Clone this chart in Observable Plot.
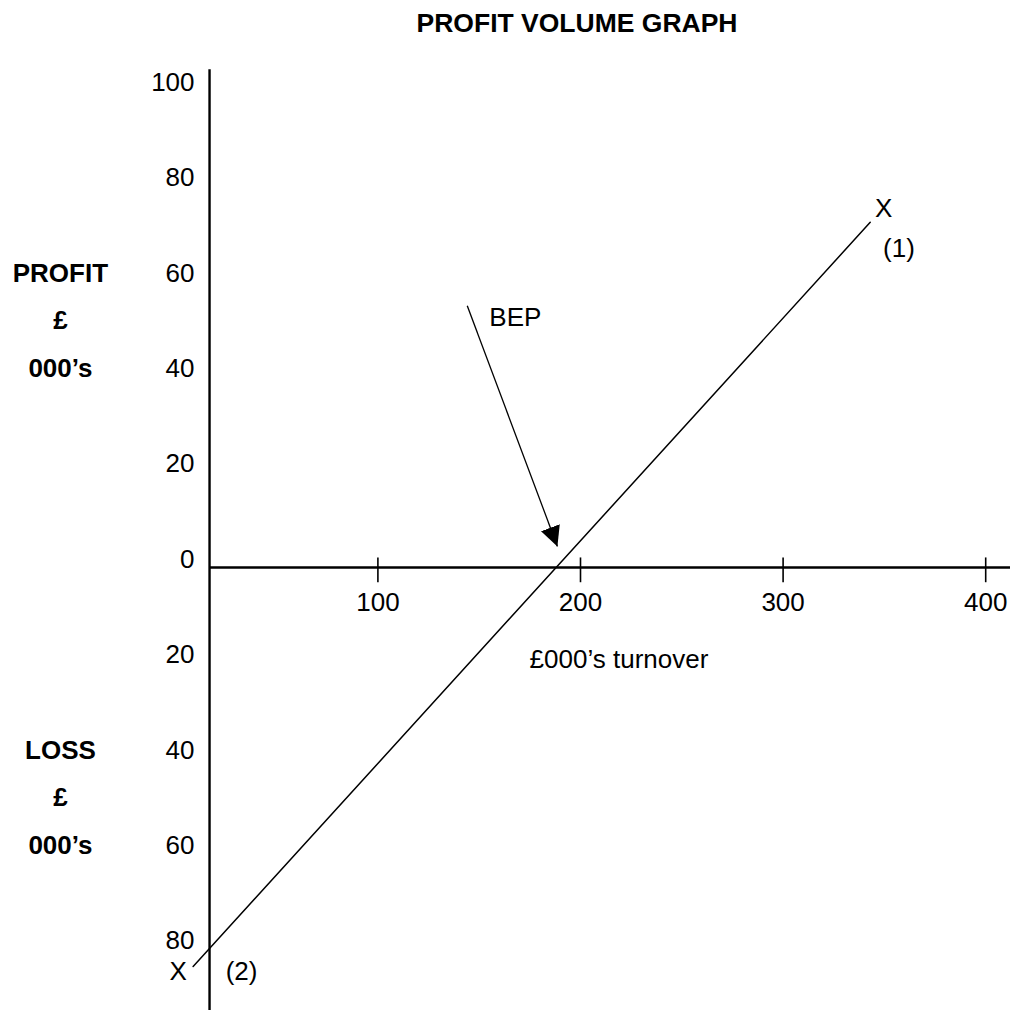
<!DOCTYPE html>
<html><head><meta charset="utf-8">
<script src="https://cdn.jsdelivr.net/npm/d3@7"></script>
<script src="https://cdn.jsdelivr.net/npm/@observablehq/plot@0.6"></script>
<style>
body{margin:0;background:#fff;font-family:"Liberation Sans",Arial,Helvetica,sans-serif;}
#title{height:46px;line-height:46px;font-size:26.5px;font-weight:bold;text-align:center;padding-left:144px;width:866px;color:#000;}
#chart svg{display:block;}
</style></head><body>
<div id="title">PROFIT VOLUME GRAPH</div>
<div id="chart"></div>
<script>
// ---- data ----
const turnoverTicks = [100, 200, 300, 400];
const profitTicks = [100, 80, 60, 40, 20, 0, -20, -40, -60, -80];
const yAxisAt = 16.9;              // turnover where the vertical axis is drawn
const yAxisExtent = [-93, 104.4];  // profit range covered by the vertical axis
const xAxisExtent = [16.9, 412.5]; // turnover range covered by the horizontal axis
const tickExtent = [-3.2, 2.0];    // profit range of the turnover ticks
const pvLine = [
  {turnover: 8.8, profit: -83.7},
  {turnover: 343, profit: 72.4}
];
const bepArrow = [{x1: 144.1, y1: 54.9, x2: 188.6, y2: 4.4}];
const bepLabel = [{text: "BEP", turnover: 155, profit: 52.3}];
const annotations = [
  {text: "X", turnover: 349.6, profit: 75.3},
  {text: "(1)", turnover: 357.2, profit: 66.9},
  {text: "X", turnover: 1.4, profit: -84.7},
  {text: "(2)", turnover: 32.7, profit: -84.7},
  {text: "£000’s turnover", turnover: 219, profit: -19.3}
];
const sideLabels = [
  {text: "PROFIT", profit: 60},
  {text: "£", profit: 50},
  {text: "000’s", profit: 40},
  {text: "LOSS", profit: -40},
  {text: "£", profit: -50},
  {text: "000’s", profit: -60}
];
const sideLabelAt = -56.7;

const FS = 26;
const plot = Plot.plot({
  width: 1010,
  height: 964,
  margin: 0,
  style: {fontFamily: '"Liberation Sans", Arial, Helvetica, sans-serif', fontSize: FS + "px", color: "#000", background: "#fff"},
  x: {type: "linear", domain: [0, 400], range: [174.8, 985.2], axis: null},
  y: {type: "linear", domain: [-80, 100], range: [902.4, 44.2], axis: null},
  marks: [
    // axes
    Plot.ruleX([yAxisAt], {y1: yAxisExtent[0], y2: yAxisExtent[1], stroke: "#000", strokeWidth: 2.4}),
    Plot.ruleY([0], {x1: xAxisExtent[0], x2: xAxisExtent[1], stroke: "#000", strokeWidth: 2.6}),
    Plot.ruleX(turnoverTicks, {x: d => d, y1: tickExtent[0], y2: tickExtent[1], stroke: "#000", strokeWidth: 1.6}),
    Plot.text(turnoverTicks, {x: d => d, y: 0, dy: 35, text: d => String(d), fontSize: FS, fill: "#000"}),
    Plot.text(profitTicks, {x: yAxisAt, y: d => d, dx: -15, dy: -8, text: d => String(Math.abs(d)), textAnchor: "end", fontSize: FS, fill: "#000"}),
    Plot.text(sideLabels, {x: sideLabelAt, y: "profit", dy: -8, text: "text", fontWeight: "bold", fontSize: FS, fill: "#000"}),
    // profit-volume line
    Plot.line(pvLine, {x: "turnover", y: "profit", stroke: "#000", strokeWidth: 1.5}),
    // BEP arrow
    Plot.link(bepArrow, {x1: "x1", y1: "y1", x2: "x2", y2: "y2", stroke: "#000", strokeWidth: 1.3, markerEnd: "arrow"}),
    // annotations
    Plot.text(bepLabel, {x: "turnover", y: "profit", text: "text", textAnchor: "start", fontSize: FS, fill: "#000"}),
    Plot.text(annotations, {x: "turnover", y: "profit", text: "text", fontSize: FS, fill: "#000"})
  ]
});

// filled arrowhead
plot.querySelectorAll("marker").forEach(m => {
  m.setAttribute("viewBox", "-20 -10 20 20");
  m.setAttribute("markerWidth", "20");
  m.setAttribute("markerHeight", "20");
  m.setAttribute("markerUnits", "userSpaceOnUse");
  m.setAttribute("fill", "#000");
  m.setAttribute("stroke", "none");
  while (m.firstChild) m.removeChild(m.firstChild);
  const p = document.createElementNS("http://www.w3.org/2000/svg", "path");
  p.setAttribute("d", "M-20,-10L0,0L-20,10Z");
  m.appendChild(p);
});

document.getElementById("chart").appendChild(plot);
</script>
</body></html>
